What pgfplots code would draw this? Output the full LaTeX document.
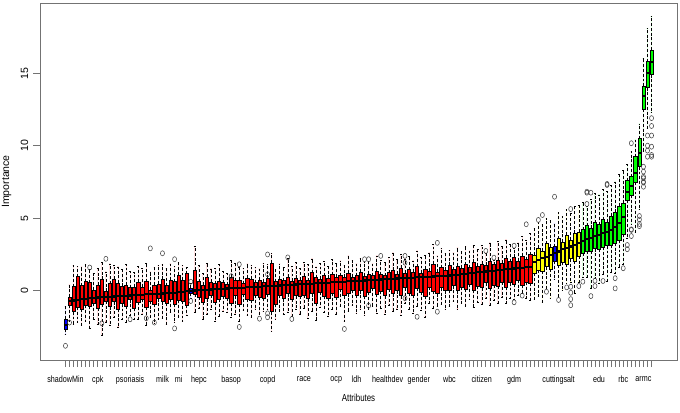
\documentclass[border=0pt]{standalone}
\usepackage{fontspec}
\setmainfont{Liberation Sans}
\newfontfamily\narrowsf[FakeStretch=0.78]{Liberation Sans}
\usepackage{pgfplots}
\usepackage{pgfplotstable}
\pgfplotsset{compat=1.18}
\usepgfplotslibrary{statistics}
\usetikzlibrary{calc}

\definecolor{rblue}{HTML}{0000FF}
\definecolor{rred}{HTML}{FF0000}
\definecolor{ryellow}{HTML}{FFFF00}
\definecolor{rgreen}{HTML}{00FF00}

\pgfplotsset{
  bxc0/.style={draw=black, fill=rblue},
  bxc1/.style={draw=black, fill=rred},
  bxc2/.style={draw=black, fill=ryellow},
  bxc3/.style={draw=black, fill=rgreen},
}

% i lw q1 med q3 uw colour (0 shadow, 1 rejected, 2 tentative, 3 confirmed)
\pgfplotstableread{
i lw q1 med q3 uw c
1 -3.0 -2.65 -2.35 -1.95 -1.1 0
2 -2.1 -1.0 -0.72 -0.45 0.4 1
3 -2.3 -1.45 -0.68 0.28 1.75 1
4 -2.2 -1.12 -0.62 0.97 1.7 1
5 -2.4 -1.25 -0.58 0.35 1.65 1
6 -2.1 -1.0 -0.55 0.62 1.8 1
7 -2.6 -1.08 -0.52 0.55 1.45 1
8 -2.0 -0.85 -0.50 0.05 1.2 1
9 -2.3 -1.2 -0.47 0.38 1.55 1
10 -3.1 -0.95 -0.45 0.78 1.95 1
11 -2.15 -0.7 -0.43 -0.05 1.3 1
12 -2.4 -1.1 -0.42 0.48 1.85 1
13 -1.85 -0.75 -0.40 0.80 1.75 1
14 -2.5 -1.25 -0.38 0.52 1.65 1
15 -2.0 -0.9 -0.37 0.30 1.45 1
16 -2.2 -1.05 -0.35 0.40 1.8 1
17 -1.7 -0.62 -0.33 0.22 1.35 1
18 -2.0 -1.22 -0.30 0.25 1.25 1
19 -1.95 -0.8 -0.29 0.58 1.7 1
20 -1.6 -0.6 -0.27 0.25 1.55 1
21 -2.4 -1.15 -0.25 0.62 1.9 1
22 -1.8 -0.7 -0.24 0.05 1.3 1
23 -2.25 -0.95 -0.22 0.40 1.6 1
24 -2.0 -0.55 -0.20 0.45 1.75 1
25 -1.9 -0.75 -0.19 0.78 1.8 1
26 -2.3 -0.85 -0.17 0.35 1.55 1
27 -1.5 -0.6 -0.15 0.72 1.85 1
28 -2.2 -0.92 -0.13 0.62 1.7 1
29 -1.8 -0.65 -0.10 1.08 1.95 1
30 -2.1 -0.72 -0.08 0.72 1.75 1
31 -1.7 -0.98 -0.05 1.18 1.6 1
32 -0.55 -0.15 0.0 0.18 0.5 0
33 -1.5 -0.25 0.01 1.42 3.05 1
34 -1.2 -0.45 0.03 0.62 1.75 1
35 -2.0 -0.78 0.05 0.40 1.2 1
36 -1.6 -0.55 0.06 0.95 1.9 1
37 -1.3 -0.3 0.08 0.58 1.5 1
38 -2.1 -0.8 0.10 0.48 1.55 1
39 -1.75 -0.6 0.11 0.68 1.8 1
40 -1.4 -0.4 0.13 0.55 1.35 1
41 -1.5 -0.5 0.15 0.42 1.2 1
42 -1.85 -0.85 0.16 0.95 2.1 1
43 -1.6 -0.35 0.18 0.70 1.9 1
44 -2.1 -0.95 0.20 0.75 1.65 1
45 -1.35 -0.25 0.21 0.50 1.55 1
46 -1.7 -0.6 0.23 0.88 1.85 1
47 -1.85 -0.65 0.25 0.80 1.75 1
48 -1.25 -0.3 0.26 0.55 1.6 1
49 -1.6 -0.45 0.28 0.72 1.5 1
50 -1.45 -0.5 0.30 0.60 1.9 1
51 -1.3 -0.25 0.31 0.85 1.8 1
52 -2.8 -1.45 0.33 1.9 2.55 1
53 -1.95 -0.95 0.34 0.62 1.45 1
54 -1.4 -0.3 0.36 0.82 1.85 1
55 -1.65 -0.55 0.38 0.70 1.6 1
56 -1.5 -0.2 0.39 0.95 2.25 1
57 -1.75 -0.6 0.41 0.65 1.7 1
58 -1.3 -0.35 0.43 0.85 1.95 1
59 -1.6 -0.4 0.44 0.75 1.55 1
60 -1.2 -0.3 0.46 1.0 1.95 1
61 -1.9 -0.55 0.48 0.70 1.8 1
62 -1.4 -0.2 0.49 1.25 2.2 1
63 -2.05 -0.85 0.51 0.90 1.65 1
64 -1.15 -0.1 0.52 0.80 1.9 1
65 -1.5 -0.4 0.54 1.05 2.0 1
66 -1.75 -0.5 0.56 0.85 1.7 1
67 -1.3 -0.15 0.57 1.1 2.15 1
68 -1.6 -0.45 0.59 0.95 1.9 1
69 -1.1 0.1 0.61 1.05 2.05 1
70 -2.1 -0.35 0.62 0.92 1.75 1
71 -1.45 -0.2 0.64 1.2 2.4 1
72 -1.0 0.05 0.66 0.95 2.1 1
73 -1.55 -0.3 0.67 1.05 1.85 1
74 -1.25 0.0 0.69 1.3 2.25 1
75 -1.7 -0.4 0.70 1.0 1.95 1
76 -1.3 -0.1 0.72 1.15 2.0 1
77 -1.1 0.15 0.74 1.05 1.85 1
78 -1.55 -0.25 0.75 1.35 2.4 1
79 -1.2 -0.05 0.77 1.1 2.1 1
80 -1.65 -0.35 0.79 1.05 1.95 1
81 -1.0 0.1 0.80 1.25 2.3 1
82 -1.45 -0.2 0.82 1.4 2.6 1
83 -1.25 0.0 0.84 1.15 2.15 1
84 -1.7 -0.35 0.85 1.55 2.5 1
85 -0.9 0.2 0.87 1.2 2.2 1
86 -1.3 -0.15 0.88 1.45 2.35 1
87 -1.55 -0.3 0.90 1.3 2.05 1
88 -1.05 0.15 0.92 1.65 2.75 1
89 -1.35 -0.1 0.93 1.2 2.3 1
90 -1.8 -0.4 0.95 1.5 2.45 1
91 -0.85 0.25 0.97 1.35 2.6 1
92 -1.2 -0.05 0.98 1.85 3.2 1
93 -1.1 -0.2 1.00 1.3 2.4 1
94 -0.95 0.2 1.01 1.6 2.9 1
95 -1.3 0.0 1.03 1.4 2.55 1
96 -1.1 0.05 1.05 1.75 2.8 1
97 -0.75 0.35 1.08 1.45 2.6 1
98 -1.25 0.0 1.11 1.7 2.95 1
99 -0.9 0.25 1.14 1.55 2.7 1
100 -1.05 0.1 1.17 1.8 3.05 1
101 -0.6 0.45 1.20 1.6 2.75 1
102 -1.15 0.05 1.23 1.95 3.1 1
103 -0.8 0.3 1.26 1.7 2.85 1
104 -0.95 0.2 1.29 1.85 3.15 1
105 -0.5 0.55 1.32 1.75 2.6 1
106 -1.0 0.15 1.35 2.05 3.3 1
107 -0.65 0.4 1.38 1.8 2.1 1
108 -0.85 0.3 1.41 2.1 3.4 1
109 -0.45 0.6 1.44 1.9 3.05 1
110 -0.9 0.25 1.47 2.25 3.5 1
111 -0.55 0.55 1.50 2.0 3.2 1
112 -0.6 0.45 1.53 2.3 2.9 1
113 -0.3 0.75 1.56 2.05 3.3 1
114 -0.2 0.4 1.59 2.4 3.75 1
115 -0.5 0.6 1.62 2.15 3.45 1
116 -0.65 0.5 1.66 2.5 3.95 1
117 -0.6 1.2 1.95 2.45 4.3 2
118 -0.35 1.4 2.10 2.95 4.7 2
119 -0.8 1.35 2.25 2.75 4.55 2
120 0.2 1.65 2.35 3.25 5.0 2
121 -0.5 1.5 2.45 3.0 4.85 2
122 0.8 2.05 2.60 3.05 4.6 0
123 -0.45 1.75 2.70 3.6 5.4 2
124 0.05 1.95 2.85 3.35 5.15 2
125 0.5 1.85 2.95 3.85 5.6 2
126 0.6 2.2 3.05 3.5 5.35 2
127 -0.15 2.05 3.15 3.95 5.8 2
128 0.6 2.4 3.30 4.05 5.9 2
129 0.9 2.6 3.45 4.2 6.1 3
130 0.9 2.75 3.55 4.5 5.8 3
131 0.2 2.7 3.65 4.3 6.3 3
132 0.85 2.9 3.75 4.7 6.7 3
133 0.5 2.85 3.85 4.55 6.6 3
134 1.1 3.0 3.95 4.9 7.0 3
135 0.65 3.1 4.05 4.75 6.85 3
136 1.25 3.15 4.20 5.15 7.25 3
137 1.2 3.3 4.40 5.4 7.5 3
138 1.6 3.5 4.65 5.85 8.0 3
139 1.8 3.9 5.10 6.05 8.3 3
140 3.6 6.25 6.80 7.6 8.7 3
141 4.6 6.6 7.20 7.86 9.6 3
142 4.0 7.5 8.10 9.24 10.4 3
143 5.6 8.55 9.50 10.5 11.5 3
144 9.6 12.5 13.40 14.1 16.0 3
145 11.2 14.0 15.00 15.8 18.1 3
146 12.3 14.9 15.80 16.6 18.9 3
}\boxdata

% outlying importance values
\pgfplotstableread{
x y
1 -3.8
2 -2.2
7 1.6
10 -2.25
11 2.2
17 -1.97
21 -1.9
22 2.92
23 -2.2
25 2.58
28 -2.6
28 2.17
32 0.62
32 -0.71
42 1.0
44 1.82
44 -2.5
49 -1.93
51 2.5
51 1.13
51 -1.56
51 -1.83
56 2.3
57 -1.95
70 -2.64
75 2.17
76 2.17
76 -1.03
79 2.4
85 2.4
85 1.93
85 -0.52
88 -1.8
93 3.3
93 -1.45
105 2.74
107 2.28
112 3.1
112 -0.8
114 -0.34
115 4.58
118 4.88
119 5.22
120 -0.07
122 6.48
123 -0.64
125 0.23
126 5.63
126 0.27
126 -0.14
126 -0.58
126 -1.0
128 0.32
129 0.62
130 6.76
130 6.83
131 6.76
130 5.98
131 -0.37
132 0.69
132 0.32
134 0.67
135 7.36
135 7.29
137 0.86
137 0.16
139 1.55
140 2.86
140 3.15
141 4.19
141 4.23
141 3.77
141 10.17
143 5.15
143 4.9
143 4.6
143 4.45
144 7.76
144 7.45
144 7.17
144 8.55
144 8.21
144 7.86
144 7.52
145 9.24
146 9.24
145 9.66
145 10.0
146 9.93
146 9.36
145 10.7
146 10.7
146 11.36
146 11.9
}\outliers

\begin{document}
\begin{tikzpicture}
\begin{axis}[
  name=ax,
  scale only axis,
  width=477.75pt, height=267.75pt,
  xmin=-5.3, xmax=152.3,
  ymin=-4.78, ymax=19.84,
  axis line style={black!55, line width=0.6pt},
  tick style={black!55, line width=0.5pt},
  tick align=outside,
  major tick length=5.25pt,
  xtick pos=bottom, ytick pos=left,
  xtick={1,...,146},
  xticklabels={},
  extra x ticks={1,9,17,25,29,34,42,51,60,68,73,80.7,88.4,96,104,112,123,133,139,144},
  extra x tick labels={shadowMin,cpk,psoriasis,milk,mi,hepc,basop,copd,race,ocp,ldh,healthdev,gender,wbc,citizen,gdm,cuttingsalt,edu,rbc,armc},
  extra x tick style={major tick length=0pt,
    tick label style={font=\narrowsf\fontsize{6.9}{9}\selectfont, anchor=north, yshift=-8.5pt}},
  ytick={0,5,10,15},
  /pgf/number format/assume math mode=true,
  yticklabel style={rotate=90, anchor=south, font=\fontsize{7.9}{9}\selectfont},
  xlabel={Attributes},
  ylabel={Importance},
  xlabel style={at={(axis description cs:0.5,-0.1064)}, anchor=center,
    font=\narrowsf\fontsize{7.6}{9}\selectfont},
  ylabel style={at={(axis description cs:-0.0523,0.5)}, anchor=center,
    font=\fontsize{7.9}{9}\selectfont},
  boxplot/draw direction=y,
  boxplot/box extend=0.8,
  boxplot/whisker extend=0.4,
  boxplot/every whisker/.style={dash pattern=on 2.2pt off 1.4pt, line width=0.4pt},
  boxplot/every box/.style={line width=0.45pt},
  boxplot/every median/.style={line width=1.6pt},
]
\pgfplotsinvokeforeach{0,...,145}{%
  \pgfplotstablegetelem{#1}{i}\of\boxdata\let\bi\pgfplotsretval
  \pgfplotstablegetelem{#1}{lw}\of\boxdata\let\blw\pgfplotsretval
  \pgfplotstablegetelem{#1}{q1}\of\boxdata\let\bqa\pgfplotsretval
  \pgfplotstablegetelem{#1}{med}\of\boxdata\let\bme\pgfplotsretval
  \pgfplotstablegetelem{#1}{q3}\of\boxdata\let\bqb\pgfplotsretval
  \pgfplotstablegetelem{#1}{uw}\of\boxdata\let\buw\pgfplotsretval
  \pgfplotstablegetelem{#1}{c}\of\boxdata\let\bc\pgfplotsretval
  \edef\temp{\noexpand\addplot[bxc\bc, boxplot prepared={draw position=\bi,
    lower whisker=\blw, lower quartile=\bqa, median=\bme,
    upper quartile=\bqb, upper whisker=\buw}] coordinates {};}
  \temp
}
\addplot[only marks, mark=o, mark size=1.9pt,
  mark options={xscale=0.8, line width=0.4pt, draw=black!75}] table[x=x, y=y] {\outliers};
\end{axis}
\pgfresetboundingbox
\path[use as bounding box] ($(ax.south west)+(-30pt,-39pt)$) rectangle ($(ax.north east)+(2.25pt,2.25pt)$);
\end{tikzpicture}
\end{document}
